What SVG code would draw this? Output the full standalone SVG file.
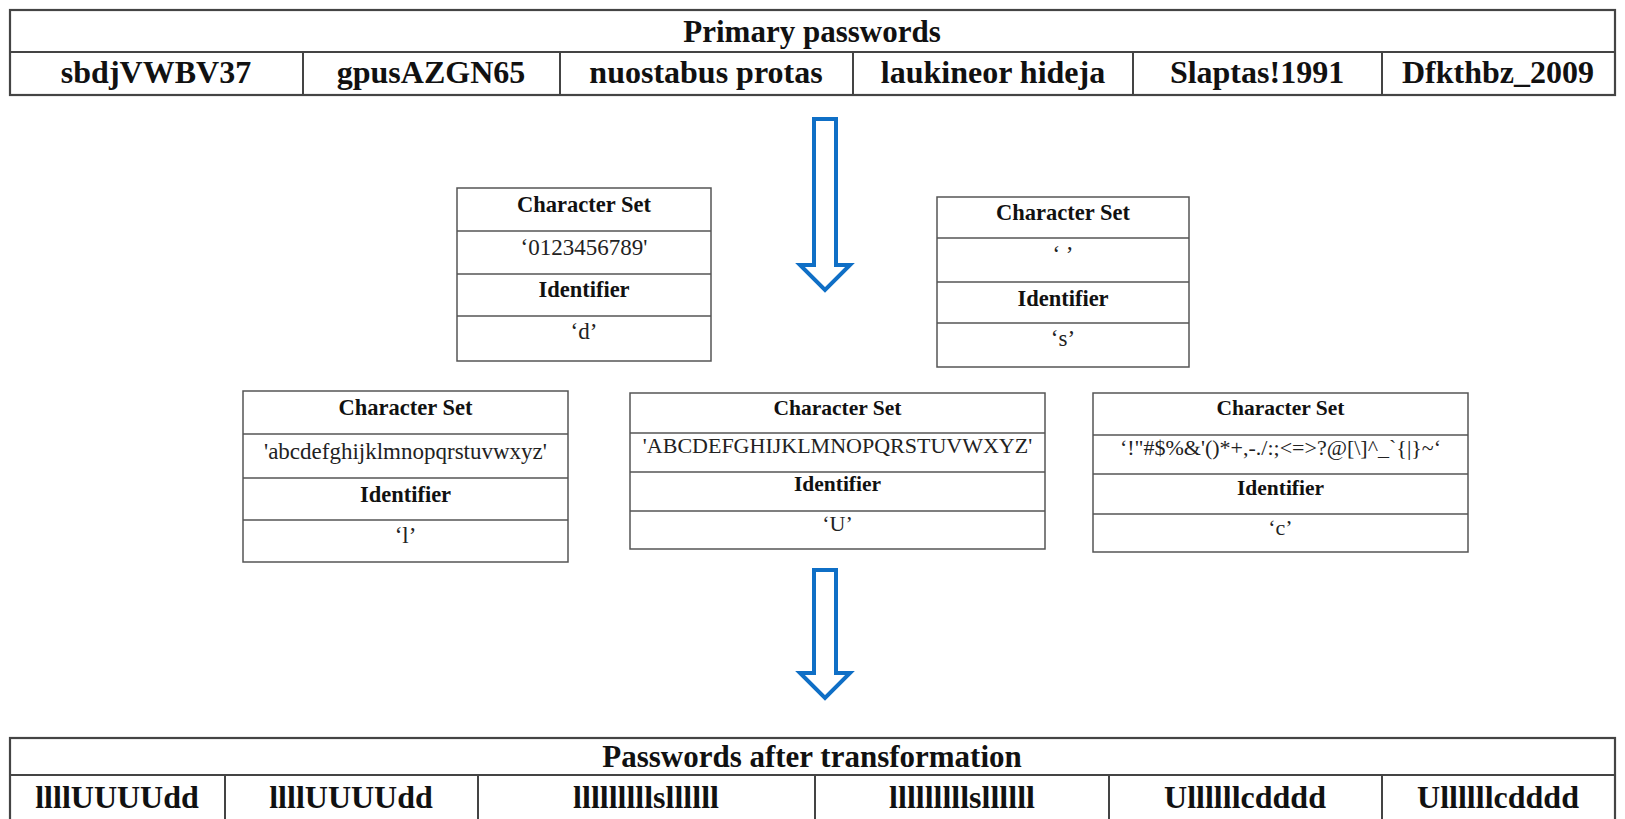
<svg xmlns="http://www.w3.org/2000/svg" width="1625" height="819" viewBox="0 0 1625 819">
<style>
.tb{fill:#fff;stroke:#444;stroke-width:2.2}
.tl{stroke:#444;stroke-width:2}
.bx{fill:#fff;stroke:#555;stroke-width:1.5}
.bl{stroke:#555;stroke-width:1.5}
.th{font-family:"Liberation Serif","Times New Roman",serif;font-weight:bold;font-size:31px;fill:#111;text-anchor:middle}
.tc{font-family:"Liberation Serif","Times New Roman",serif;font-weight:bold;font-size:32px;fill:#111;text-anchor:middle}
.b{font-family:"Liberation Serif","Times New Roman",serif;font-weight:bold;font-size:22.5px;fill:#111;text-anchor:middle}
.r{font-family:"Liberation Serif","Times New Roman",serif;font-size:23px;fill:#222;text-anchor:middle}
.bs{font-family:"Liberation Serif","Times New Roman",serif;font-weight:bold;font-size:21.5px;fill:#111;text-anchor:middle}
.rs{font-family:"Liberation Serif","Times New Roman",serif;font-size:22px;fill:#222;text-anchor:middle}
.arr{fill:#fff;stroke:#0f6fc6;stroke-width:4;stroke-linejoin:miter}
</style>
<rect width="1625" height="819" fill="#fff"/>

<g id="primary-table">
<rect class="tb" x="10" y="10" width="1605" height="85"/>
<line class="tl" x1="10" y1="52" x2="1615" y2="52"/>
<line class="tl" x1="303" y1="52" x2="303" y2="95"/>
<line class="tl" x1="560" y1="52" x2="560" y2="95"/>
<line class="tl" x1="853" y1="52" x2="853" y2="95"/>
<line class="tl" x1="1133" y1="52" x2="1133" y2="95"/>
<line class="tl" x1="1382" y1="52" x2="1382" y2="95"/>
<text class="th" x="812" y="42">Primary passwords</text>
<text class="tc" x="156" y="83">sbdjVWBV37</text>
<text class="tc" x="431" y="83">gpusAZGN65</text>
<text class="tc" x="706" y="83">nuostabus protas</text>
<text class="tc" x="993" y="83">laukineor hideja</text>
<text class="tc" x="1257" y="83">Slaptas!1991</text>
<text class="tc" x="1498" y="83">Dfkthbz_2009</text>
</g>

<g id="connectors">
<path class="arr" d="M814,119 L836,119 L836,265 L850,265 L825,290 L800,265 L814,265 Z"/>
<path class="arr" d="M814,570 L836,570 L836,673 L850,673 L825,698 L800,673 L814,673 Z"/>
</g>

<g id="box-d">
<rect class="bx" x="457" y="188" width="254" height="173"/>
<line class="bl" x1="457" y1="231" x2="711" y2="231"/>
<line class="bl" x1="457" y1="274" x2="711" y2="274"/>
<line class="bl" x1="457" y1="316" x2="711" y2="316"/>
<text class="b" x="584" y="212">Character Set</text>
<text class="r" x="584" y="255">‘0123456789'</text>
<text class="b" x="584" y="297">Identifier</text>
<text class="r" x="584" y="339">‘d’</text>
</g>

<g id="box-s">
<rect class="bx" x="937" y="197" width="252" height="170"/>
<line class="bl" x1="937" y1="238" x2="1189" y2="238"/>
<line class="bl" x1="937" y1="282" x2="1189" y2="282"/>
<line class="bl" x1="937" y1="323" x2="1189" y2="323"/>
<text class="b" x="1063" y="220">Character Set</text>
<text class="r" x="1063" y="262">‘ ’</text>
<text class="b" x="1063" y="306">Identifier</text>
<text class="r" x="1063" y="346">‘s’</text>
</g>

<g id="box-l">
<rect class="bx" x="243" y="391" width="325" height="171"/>
<line class="bl" x1="243" y1="434" x2="568" y2="434"/>
<line class="bl" x1="243" y1="478" x2="568" y2="478"/>
<line class="bl" x1="243" y1="520" x2="568" y2="520"/>
<text class="b" x="405.5" y="415">Character Set</text>
<text class="r" x="405.5" y="459">'abcdefghijklmnopqrstuvwxyz'</text>
<text class="b" x="405.5" y="502">Identifier</text>
<text class="r" x="405.5" y="543">‘l’</text>
</g>

<g id="box-u">
<rect class="bx" x="630" y="393" width="415" height="156"/>
<line class="bl" x1="630" y1="433" x2="1045" y2="433"/>
<line class="bl" x1="630" y1="472" x2="1045" y2="472"/>
<line class="bl" x1="630" y1="511" x2="1045" y2="511"/>
<text class="bs" x="837.5" y="415">Character Set</text>
<text class="rs" x="837.5" y="453">'ABCDEFGHIJKLMNOPQRSTUVWXYZ'</text>
<text class="bs" x="837.5" y="491">Identifier</text>
<text class="rs" x="837.5" y="531">‘U’</text>
</g>

<g id="box-c">
<rect class="bx" x="1093" y="393" width="375" height="159"/>
<line class="bl" x1="1093" y1="435" x2="1468" y2="435"/>
<line class="bl" x1="1093" y1="474" x2="1468" y2="474"/>
<line class="bl" x1="1093" y1="514" x2="1468" y2="514"/>
<text class="bs" x="1280.5" y="415">Character Set</text>
<text class="rs" x="1280.5" y="455">‘!"#$%&amp;'()*+,-./:;&lt;=&gt;?@[\]^_`{|}~‘</text>
<text class="bs" x="1280.5" y="495">Identifier</text>
<text class="rs" x="1280.5" y="535">‘c’</text>
</g>

<g id="transformed-table">
<rect class="tb" x="10" y="738" width="1605" height="95"/>
<line class="tl" x1="10" y1="775" x2="1615" y2="775"/>
<line class="tl" x1="225" y1="775" x2="225" y2="819"/>
<line class="tl" x1="478" y1="775" x2="478" y2="819"/>
<line class="tl" x1="815" y1="775" x2="815" y2="819"/>
<line class="tl" x1="1109" y1="775" x2="1109" y2="819"/>
<line class="tl" x1="1382" y1="775" x2="1382" y2="819"/>
<text class="th" x="812" y="767">Passwords after transformation</text>
<text class="tc" x="117" y="808">llllUUUUdd</text>
<text class="tc" x="351" y="808">llllUUUUdd</text>
<text class="tc" x="646" y="808">lllllllllsllllll</text>
<text class="tc" x="962" y="808">lllllllllsllllll</text>
<text class="tc" x="1245" y="808">Ullllllcdddd</text>
<text class="tc" x="1498" y="808">Ullllllcdddd</text>
</g>
</svg>
